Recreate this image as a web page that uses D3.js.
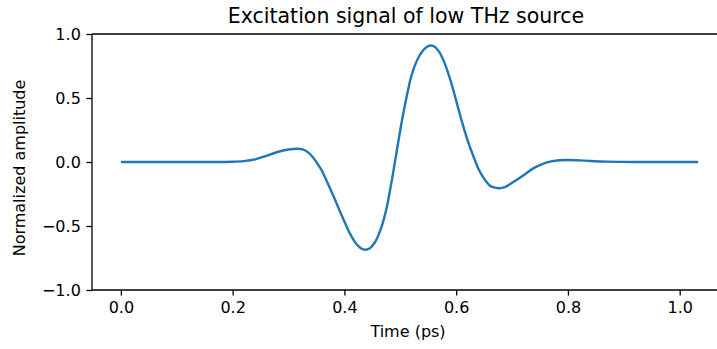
<!DOCTYPE html>
<html>
<head>
<meta charset="utf-8">
<script src="https://cdn.jsdelivr.net/npm/d3@7"></script>
<style>
  html, body { margin: 0; padding: 0; background: #fff; }
  svg { display: block; font-family: "DejaVu Sans", sans-serif; }
</style>
</head>
<body>
<svg id="chart" width="717" height="349"></svg>
<script>
// Time samples (ps) and normalized excitation amplitude
const timePs = [0.00, 0.10, 0.16, 0.20, 0.22, 0.24, 0.26, 0.28, 0.30, 0.315, 0.325, 0.335, 0.345, 0.355, 0.36,
                0.37, 0.38, 0.39, 0.40, 0.41, 0.42, 0.43, 0.437, 0.445, 0.455, 0.465, 0.475, 0.485,
                0.50, 0.51, 0.52, 0.53, 0.54, 0.548, 0.555, 0.562, 0.57, 0.58, 0.59, 0.60, 0.61, 0.62,
                0.63, 0.64, 0.65, 0.66, 0.668, 0.676, 0.684, 0.69, 0.708, 0.72, 0.738, 0.755, 0.77, 0.785, 0.80,
                0.82, 0.84, 0.87, 0.92, 1.033];
const amplitude = [0.000, 0.000, 0.000, 0.002, 0.007, 0.020, 0.048, 0.078, 0.098, 0.104, 0.098, 0.075, 0.030, -0.035, -0.070,
                   -0.165, -0.262, -0.365, -0.465, -0.560, -0.632, -0.675, -0.685, -0.675, -0.625, -0.525, -0.370, -0.140,
                   0.250, 0.480, 0.675, 0.795, 0.867, 0.900, 0.910, 0.899, 0.858, 0.765, 0.635, 0.480, 0.320, 0.175,
                   0.055, -0.055, -0.130, -0.183, -0.199, -0.205, -0.200, -0.190, -0.140, -0.105, -0.050, -0.015, 0.005, 0.014, 0.016,
                   0.013, 0.008, 0.003, 0.000, 0.000];
const xTicks = [0.0, 0.2, 0.4, 0.6, 0.8, 1.0];
const yTicks = [-1.0, -0.5, 0.0, 0.5, 1.0];
const titleText = "Excitation signal of low THz source";
const xLabelText = "Time (ps)";
const yLabelText = "Normalized amplitude";

const svg = d3.select("#chart");
const plotLeft = 92, plotTop = 34, plotH = 256;
const plotW = 635;

// x limits padded by 5% of the data span on each side
const tMin = d3.min(timePs), tMax = d3.max(timePs);
const pad = 0.05 * (tMax - tMin);
const x = d3.scaleLinear().domain([tMin - pad, tMax + pad]).range([plotLeft, plotLeft + plotW]);
const y = d3.scaleLinear().domain([-1, 1]).range([plotTop + plotH, plotTop]);

const fmt = v => d3.format(".1f")(v).replace("-", "\u2212");
const tickFont = 16;
const tickLen = 5.6;

// Signal trace
const data = timePs.map((t, i) => [t, amplitude[i]]);
svg.append("path")
  .datum(data)
  .attr("fill", "none")
  .attr("stroke", "#1f77b4")
  .attr("stroke-width", 2.4)
  .attr("stroke-linejoin", "round")
  .attr("stroke-linecap", "butt")
  .attr("d", d3.line().x(d => x(d[0])).y(d => y(d[1])).curve(d3.curveCatmullRom.alpha(0.5)));

// Spines: left, bottom and top (right edge lies beyond the canvas)
const spine = svg.append("g").attr("stroke", "#000").attr("stroke-width", 1.28).attr("fill", "none");
spine.append("line").attr("x1", plotLeft).attr("x2", plotLeft).attr("y1", plotTop).attr("y2", plotTop + plotH);
spine.append("line").attr("x1", plotLeft).attr("x2", plotLeft + plotW).attr("y1", plotTop + plotH).attr("y2", plotTop + plotH);
spine.append("line").attr("x1", plotLeft).attr("x2", plotLeft + plotW).attr("y1", plotTop).attr("y2", plotTop);

// Bottom axis
const xAxis = svg.append("g")
  .attr("transform", `translate(0,${plotTop + plotH})`)
  .call(d3.axisBottom(x).tickValues(xTicks).tickFormat(fmt).tickSize(tickLen).tickPadding(5.6));
xAxis.select(".domain").remove();
xAxis.selectAll("line").attr("stroke", "#000").attr("stroke-width", 1.28);
xAxis.selectAll("text").attr("font-size", tickFont).attr("font-family", "DejaVu Sans").attr("fill", "#000");

// Left axis
const yAxis = svg.append("g")
  .attr("transform", `translate(${plotLeft},0)`)
  .call(d3.axisLeft(y).tickValues(yTicks).tickFormat(fmt).tickSize(tickLen).tickPadding(5.6));
yAxis.select(".domain").remove();
yAxis.selectAll("line").attr("stroke", "#000").attr("stroke-width", 1.28);
yAxis.selectAll("text").attr("font-size", tickFont).attr("font-family", "DejaVu Sans").attr("fill", "#000");

// Title and axis labels
svg.append("text")
  .attr("x", 406).attr("y", 23)
  .attr("text-anchor", "middle").attr("font-size", 20.5).attr("fill", "#000")
  .text(titleText);

svg.append("text")
  .attr("x", 408).attr("y", 337)
  .attr("text-anchor", "middle").attr("font-size", tickFont).attr("fill", "#000")
  .text(xLabelText);

svg.append("text")
  .attr("transform", `translate(25,${plotTop + plotH / 2 + 6}) rotate(-90)`)
  .attr("text-anchor", "middle").attr("font-size", tickFont).attr("fill", "#000")
  .text(yLabelText);
</script>
</body>
</html>
